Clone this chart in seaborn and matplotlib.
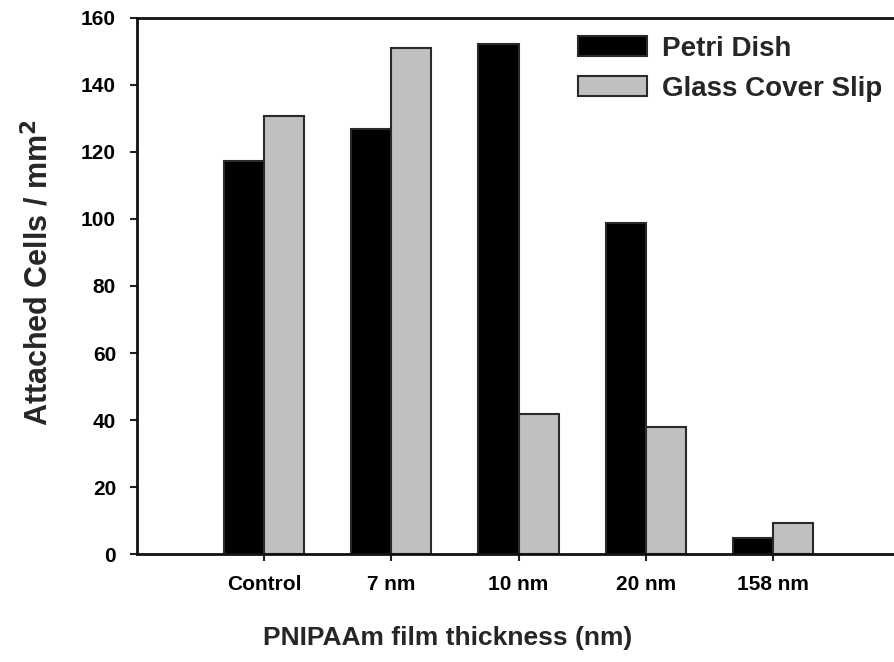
import pandas as pd
import matplotlib
matplotlib.use("Agg")
import matplotlib.pyplot as plt
import seaborn as sns

# values
thickness = ["Control", "7 nm", "10 nm", "20 nm", "158 nm"]
petri_dish = [117.3, 126.8, 152.1, 98.8, 4.8]
glass_slip = [130.8, 151.0, 41.8, 37.9, 9.3]
series_names = ["Petri Dish", "Glass Cover Slip"]
y_ticks = [0, 20, 40, 60, 80, 100, 120, 140, 160]

df = pd.DataFrame({
    "thickness": thickness * 2,
    "cells": petri_dish + glass_slip,
    "surface": [series_names[0]] * len(thickness) + [series_names[1]] * len(thickness),
})

sns.set_style("ticks")
plt.rcParams["font.family"] = ["Liberation Sans", "DejaVu Sans"]

fig = plt.figure(figsize=(8.95, 6.62), dpi=100)
ax = fig.add_axes([0.153, 0.163, 0.847, 0.810])

palette = {series_names[0]: "#000000", series_names[1]: "#c0c0c0"}
sns.barplot(data=df, x="thickness", y="cells", hue="surface", order=thickness,
            hue_order=series_names, palette=palette, width=0.63, dodge=True,
            edgecolor="#2a2a2a", linewidth=1.5, saturation=1, ax=ax)

ax.set_xlim(-1.0, 4.96)
ax.set_ylim(0, 160)
ax.set_yticks(y_ticks)
ax.tick_params(axis="both", direction="out", length=5, width=1.5, colors="#222222",
               labelcolor="black", labelsize=15)
for lbl in ax.get_xticklabels() + ax.get_yticklabels():
    lbl.set_fontweight("bold")
ax.tick_params(axis="x", pad=10)
ax.tick_params(axis="y", pad=10)

ax.set_xlabel("PNIPAAm film thickness (nm)", fontsize=19, fontweight="bold", labelpad=16)
ax.xaxis.set_label_coords(0.41, -0.135)
ax.set_ylabel("Attached Cells / mm$^\\mathbf{2}$", fontsize=22, fontweight="bold")
ax.yaxis.set_label_coords(-0.108, 0.525)

for side in ["left", "bottom", "top"]:
    ax.spines[side].set_linewidth(2)
    ax.spines[side].set_color("#111111")
ax.spines["right"].set_visible(False)

leg = ax.legend(loc="upper right", bbox_to_anchor=(1.0, 0.99), frameon=False,
                fontsize=20, handlelength=2.5, handleheight=0.7, handletextpad=0.55,
                labelspacing=0.5, borderaxespad=0.05)
for t in leg.get_texts():
    t.set_fontweight("bold")

fig.savefig("out.png", dpi=100)
plt.close(fig)
